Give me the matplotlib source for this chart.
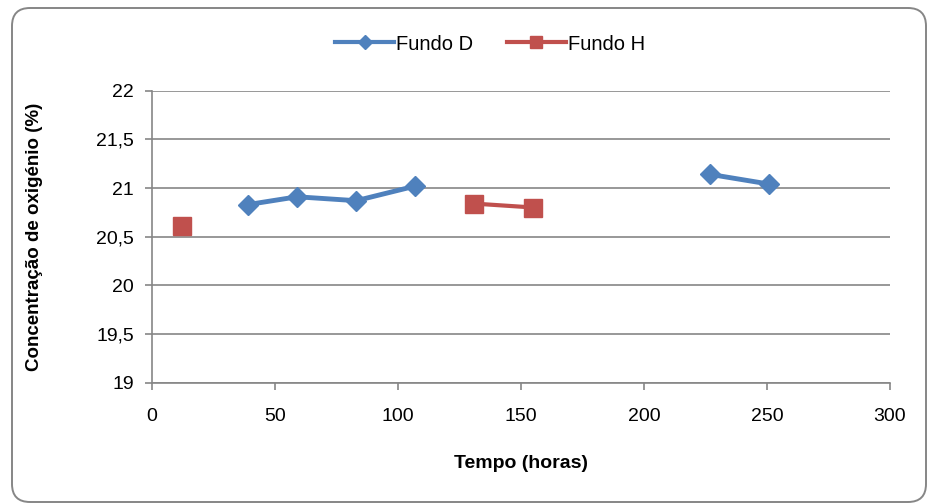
import numpy as np
import matplotlib
matplotlib.use("Agg")
import matplotlib.pyplot as plt
from matplotlib.patches import FancyBboxPatch

plt.rcParams['font.family'] = ['Liberation Sans', 'DejaVu Sans']

# data
horas_d = [39, 59, 83, 107, 131, 155, 227, 251]
fundo_d = [20.83, 20.91, 20.87, 21.02, np.nan, np.nan, 21.14, 21.04]
horas_h = [12, 131, 155]
fundo_h = [20.61, 20.84, 20.80]
fundo_h_ligado = [np.nan, 20.84, 20.80]

azul = '#4F81BD'
vermelho = '#C0504D'
cinza = '#868686'

W, H = 927, 504
fig = plt.figure(figsize=(W/100, H/100), dpi=100)
ax = fig.add_axes([152/W, 1-382.7/H, (890-152)/W, (382.7-90.7)/H])

# rounded frame around the whole chart
frame = FancyBboxPatch((12/W, 2/H), 914/W, 494/H,
                       boxstyle="round,pad=0,rounding_size=%f" % (18/W),
                       mutation_aspect=W/H,
                       transform=fig.transFigure, fill=False,
                       edgecolor=cinza, linewidth=1.4)
fig.patches.append(frame)

ax.plot(horas_d, fundo_d, color=azul, linewidth=3.5, marker='D',
        markersize=10, solid_joinstyle='round', solid_capstyle='round')
ax.plot(horas_h, fundo_h_ligado, color=vermelho, linewidth=3)
ax.plot(horas_h, fundo_h, color=vermelho, linewidth=0, marker='s',
        markersize=13)
# legend handles
ax.plot([], [], color=azul, linewidth=3, marker='D', markersize=7,
        label='Fundo D')
ax.plot([], [], color=vermelho, linewidth=3, marker='s', markersize=8,
        label='Fundo H')

ax.set_xlim(0, 300)
ax.set_ylim(19, 22)
ax.set_xticks(np.arange(0, 301, 50))
ax.set_yticks(np.arange(19, 22.01, 0.5))
ax.set_yticklabels(['19', '19,5', '20', '20,5', '21', '21,5', '22'])
ax.yaxis.grid(True, color=cinza, linewidth=1.2)
ax.set_axisbelow(True)
for s in ['top', 'right']:
    ax.spines[s].set_visible(False)
for s in ['left', 'bottom']:
    ax.spines[s].set_color(cinza)
    ax.spines[s].set_linewidth(1.2)
ax.tick_params(axis='both', colors=cinza, labelcolor='black', labelsize=14,
               length=5, width=1.2)
ax.tick_params(axis='x', pad=13)
ax.tick_params(axis='y', pad=8)

ax.set_xlabel('Tempo (horas)', fontsize=14, fontweight='bold', labelpad=22)
ax.set_ylabel('Concentração de oxigénio (%)', fontsize=13.5,
              fontweight='bold', labelpad=38)

fig.legend(loc='center', bbox_to_anchor=(490/W, 1-44/H), ncol=2,
           frameon=False, fontsize=14.5, handlelength=2.9, columnspacing=1.7,
           handletextpad=0.1)

fig.savefig('out.png', dpi=100)
